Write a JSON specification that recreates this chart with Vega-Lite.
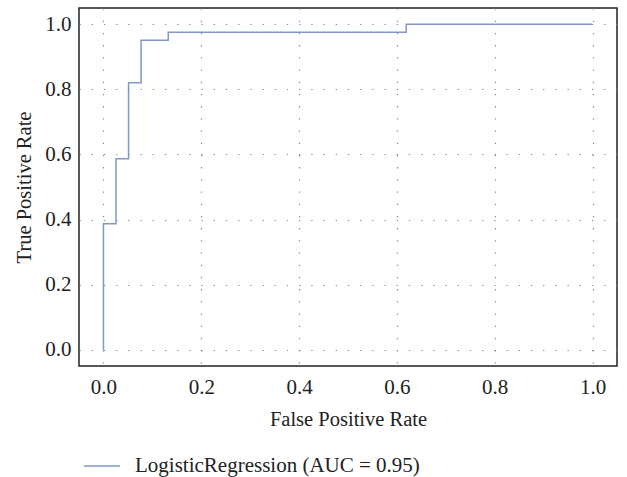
{
  "$schema": "https://vega.github.io/schema/vega-lite/v6.json",
  "width": 538,
  "height": 358,
  "autosize": "none",
  "padding": {"left": 79, "top": 8, "right": 10, "bottom": 111},
  "background": "white",
  "config": {
    "font": "Liberation Serif",
    "view": {"stroke": "#222", "strokeWidth": 1.5},
    "axis": {
      "ticks": false,
      "domain": false,
      "grid": true,
      "gridColor": "#888",
      "gridDash": [1.3, 10.9],
      "gridWidth": 1.2,
      "labelFont": "Liberation Serif",
      "labelFontSize": 21,
      "labelColor": "#222",
      "titleFont": "Liberation Serif",
      "titleFontSize": 20.5,
      "titleFontWeight": "normal",
      "titleColor": "#222"
    }
  },
  "data": {
    "values": [
      {"i": 0, "fpr": 0.0, "tpr": 0.0, "model": "LogisticRegression (AUC = 0.95)"},
      {"i": 1, "fpr": 0.0, "tpr": 0.387, "model": "LogisticRegression (AUC = 0.95)"},
      {"i": 2, "fpr": 0.0256, "tpr": 0.587, "model": "LogisticRegression (AUC = 0.95)"},
      {"i": 3, "fpr": 0.0513, "tpr": 0.82, "model": "LogisticRegression (AUC = 0.95)"},
      {"i": 4, "fpr": 0.0769, "tpr": 0.951, "model": "LogisticRegression (AUC = 0.95)"},
      {"i": 5, "fpr": 0.1325, "tpr": 0.9756, "model": "LogisticRegression (AUC = 0.95)"},
      {"i": 6, "fpr": 0.619, "tpr": 1.0, "model": "LogisticRegression (AUC = 0.95)"},
      {"i": 7, "fpr": 1.0, "tpr": 1.0, "model": "LogisticRegression (AUC = 0.95)"}
    ]
  },
  "mark": {"type": "line", "interpolate": "step-after", "strokeWidth": 1.5},
  "encoding": {
    "x": {
      "field": "fpr",
      "type": "quantitative",
      "scale": {"domain": [-0.05, 1.05], "nice": false, "zero": false},
      "axis": {"title": "False Positive Rate", "values": [0, 0.2, 0.4, 0.6, 0.8, 1.0], "format": ".1f", "labelPadding": 10, "titlePadding": 12}
    },
    "y": {
      "field": "tpr",
      "type": "quantitative",
      "scale": {"domain": [-0.05, 1.05], "nice": false, "zero": false},
      "axis": {"title": "True Positive Rate", "values": [0, 0.2, 0.4, 0.6, 0.8, 1.0], "format": ".1f", "labelPadding": 8, "titlePadding": 10}
    },
    "order": {"field": "i", "type": "quantitative"},
    "color": {
      "field": "model",
      "type": "nominal",
      "scale": {"range": ["#8197cb"]},
      "legend": {
        "title": null,
        "orient": "none",
        "legendX": 4,
        "legendY": 439,
        "symbolType": "stroke",
        "symbolSize": 1296,
        "symbolStrokeWidth": 1.5,
        "labelFont": "Liberation Serif",
        "labelFontSize": 21,
        "labelColor": "#222",
        "labelOffset": 14,
        "labelLimit": 500
      }
    }
  }
}
